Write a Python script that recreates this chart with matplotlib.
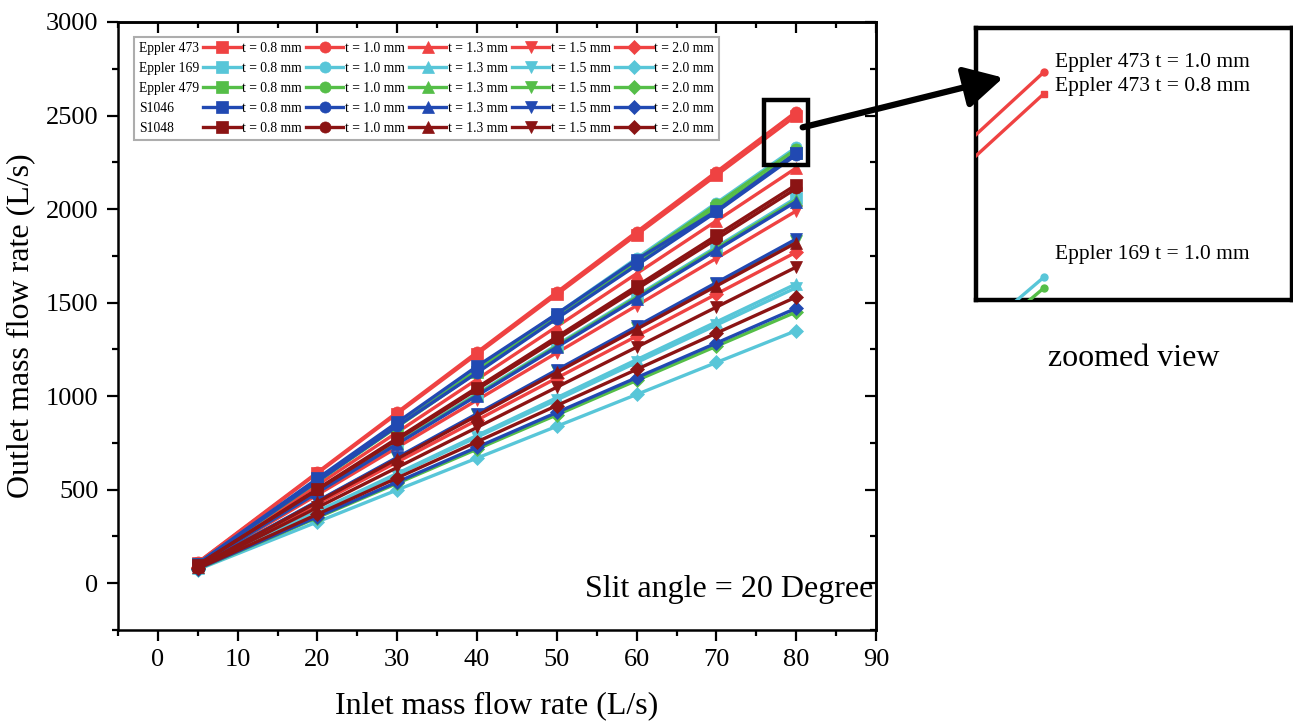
import matplotlib
matplotlib.use("Agg")
import matplotlib.pyplot as plt
from matplotlib.lines import Line2D
from matplotlib.patches import Rectangle, FancyArrowPatch
from matplotlib.ticker import MultipleLocator

plt.rcParams['font.family'] = ['Liberation Serif', 'DejaVu Serif']
plt.rcParams['mathtext.fontset'] = 'stix'

# ---------------- data ----------------
inlet = [5, 20, 30, 40, 50, 60, 70, 80]
thickness_labels = ["t = 0.8 mm", "t = 1.0 mm", "t = 1.3 mm", "t = 1.5 mm", "t = 2.0 mm"]
airfoils = ["Eppler 473", "Eppler 169", "Eppler 479", "S1046", "S1048"]

eppler473 = [
    [110, 588, 907, 1225, 1544, 1863, 2181, 2500],
    [111, 593, 914, 1235, 1556, 1878, 2199, 2520],
    [101, 525, 807, 1090, 1372, 1655, 1937, 2220],
    [94, 473, 726, 979, 1232, 1484, 1737, 1990],
    [87, 424, 648, 872, 1097, 1321, 1546, 1770],
]
eppler169 = [
    [96, 489, 751, 1013, 1274, 1536, 1798, 2060],
    [105, 550, 847, 1143, 1440, 1737, 2033, 2330],
    [81, 385, 587, 790, 992, 1195, 1397, 1600],
    [81, 381, 581, 781, 980, 1180, 1380, 1580],
    [73, 328, 499, 669, 839, 1009, 1180, 1350],
]
eppler479 = [
    [104, 543, 836, 1129, 1422, 1714, 2007, 2300],
    [104, 547, 843, 1138, 1434, 1729, 2025, 2320],
    [96, 487, 747, 1008, 1268, 1529, 1790, 2050],
    [89, 437, 669, 901, 1134, 1366, 1598, 1830],
    [76, 351, 534, 717, 900, 1084, 1267, 1450],
]
s1046 = [
    [105, 560, 860, 1160, 1440, 1730, 1990, 2300],
    [104, 545, 840, 1125, 1415, 1700, 1985, 2290],
    [95, 485, 745, 1003, 1262, 1521, 1781, 2040],
    [89, 439, 673, 906, 1140, 1373, 1607, 1840],
    [77, 356, 541, 727, 913, 1099, 1284, 1470],
]
s1048 = [
    [98, 504, 775, 1046, 1317, 1588, 1859, 2130],
    [98, 500, 768, 1036, 1304, 1572, 1840, 2110],
    [88, 434, 665, 896, 1127, 1358, 1589, 1820],
    [84, 405, 619, 833, 1048, 1262, 1476, 1690],
    [79, 369, 563, 756, 950, 1143, 1337, 1530],
]
all_series = [eppler473, eppler169, eppler479, s1046, s1048]

colors = ['#EF4242', '#58C6D8', '#55BE48', '#2149B2', '#8B1414']
markers = ['s', 'o', '^', 'v', 'D']

# ---------------- figure ----------------
W, H = 1293, 726
fig = plt.figure(figsize=(W / 100, H / 100), dpi=100)
ax = fig.add_axes([118 / W, 1 - 630 / H, (876 - 118) / W, (630 - 22) / H])

handles = {}
for ai, (name, group, col) in enumerate(zip(airfoils, all_series, colors)):
    for ti, vals in enumerate(group):
        ms = 8 if markers[ti] != 'D' else 7
        ln, = ax.plot(inlet, vals, color=col, marker=markers[ti], markersize=ms,
                      lw=2.4, markeredgewidth=0.5, markeredgecolor=col, zorder=2 + ai)
        handles[(ai, ti)] = ln

ax.set_xlim(-5, 90)
ax.set_ylim(-250, 3000)
ax.xaxis.set_major_locator(MultipleLocator(10))
ax.xaxis.set_minor_locator(MultipleLocator(5))
ax.yaxis.set_major_locator(MultipleLocator(500))
ax.yaxis.set_minor_locator(MultipleLocator(250))
ax.set_xticks(range(0, 91, 10))
ax.tick_params(axis='both', which='major', direction='out', length=8, width=1.6,
               labelsize=19, pad=6)
ax.tick_params(axis='both', which='minor', direction='out', length=4.5, width=1.6)
for sp in ax.spines.values():
    sp.set_linewidth(1.8)

# mirrored inward ticks on right and top
axr = ax.secondary_yaxis('right')
axr.yaxis.set_major_locator(MultipleLocator(500))
axr.yaxis.set_minor_locator(MultipleLocator(250))
axr.tick_params(which='major', direction='in', length=8, width=1.6, labelright=False)
axr.tick_params(which='minor', direction='in', length=4.5, width=1.6)
axr.spines['right'].set_linewidth(1.8)
axt = ax.secondary_xaxis('top')
axt.xaxis.set_major_locator(MultipleLocator(10))
axt.xaxis.set_minor_locator(MultipleLocator(5))
axt.tick_params(which='major', direction='in', length=8, width=1.6, labeltop=False)
axt.tick_params(which='minor', direction='in', length=4.5, width=1.6)
axt.spines['top'].set_linewidth(1.8)

ax.set_xlabel("Inlet mass flow rate (L/s)", fontsize=23, labelpad=14)
ax.set_ylabel("Outlet mass flow rate (L/s)", fontsize=23, labelpad=8)

ax.text(0.997, 0.066, "Slit angle = 20 Degree", transform=ax.transAxes,
        ha='right', va='center', fontsize=23)

# ---------------- legend ----------------
leg_handles, leg_labels = [], []
for ai, name in enumerate(airfoils):
    leg_handles.append(Line2D([], [], color='none'))
    leg_labels.append(name)
for ti in range(5):
    for ai in range(5):
        leg_handles.append(handles[(ai, ti)])
        leg_labels.append(thickness_labels[ti])
leg = ax.legend(leg_handles, leg_labels, ncol=6, loc='upper left',
                bbox_to_anchor=(16 / 758, 1 - 15 / 608), borderaxespad=0,
                fontsize=9.8, handlelength=2.75, handletextpad=0.12,
                columnspacing=0.3, labelspacing=0.52, numpoints=1,
                frameon=True, fancybox=False, edgecolor='#999999',
                borderpad=0.35, markerscale=1.0)
leg.get_frame().set_linewidth(1.5)
try:
    first_col = leg._legend_handle_box.get_children()[0]
    for item in first_col.get_children():
        hb = item.get_children()[0]
        hb.width = 0
        item.sep = 0
except Exception:
    pass

# highlight rectangle
ax.add_patch(Rectangle((76.0, 2235), 5.5, 350, fill=False, lw=3.2,
                       edgecolor='black', clip_on=False, zorder=20))

# ---------------- zoomed inset ----------------
axin = fig.add_axes([976 / W, 1 - 300 / H, (1292 - 976) / W, (300 - 28) / H])
for ai, (group, col) in enumerate(zip(all_series, colors)):
    for ti, vals in enumerate(group):
        axin.plot(inlet, vals, color=col, marker=markers[ti], markersize=5,
                  lw=2.4, zorder=2 + (5 - ai))
axin.set_xlim(78.2, 86.6)
axin.set_ylim(2309, 2561)
axin.set_xticks([])
axin.set_yticks([])
for sp in axin.spines.values():
    sp.set_linewidth(3.2)
fig.text(1055 / W, 1 - 62 / H, "Eppler 473 t = 1.0 mm", fontsize=15.5, ha='left', va='center')
fig.text(1055 / W, 1 - 87 / H, "Eppler 473 t = 0.8 mm", fontsize=15.5, ha='left', va='center')
fig.text(1055 / W, 1 - 254 / H, "Eppler 169 t = 1.0 mm", fontsize=15.5, ha='left', va='center')
fig.text(1134 / W, 1 - 358 / H, "zoomed view", fontsize=23, ha='center', va='center')

# arrow
arrow = FancyArrowPatch((800 / W, 1 - 128 / H), (1006 / W, 1 - 77 / H),
                        transform=fig.transFigure, arrowstyle='-|>,head_length=1.3,head_width=0.7',
                        mutation_scale=18, lw=4.5, color='black', zorder=30)
fig.patches.append(arrow)

fig.savefig("out.png", dpi=100)
